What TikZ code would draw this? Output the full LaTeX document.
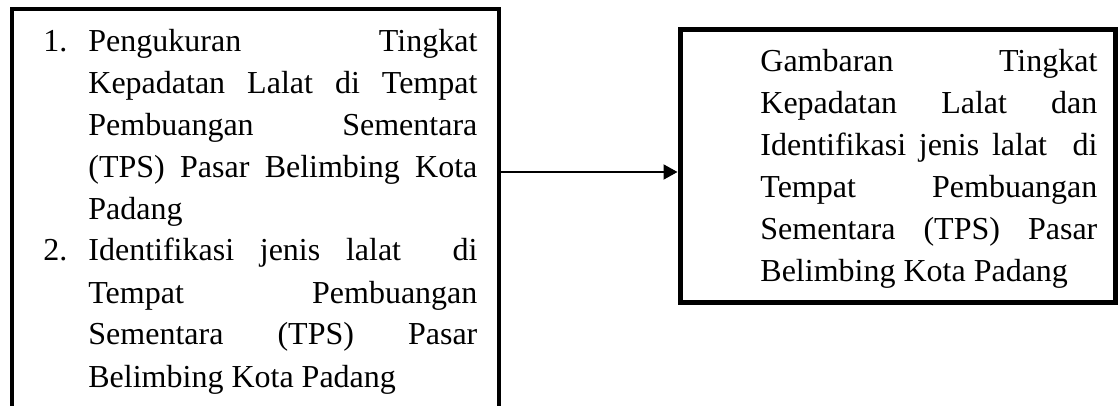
\documentclass[tikz,border=0pt]{standalone}
\usepackage{fontspec}
\setmainfont{Liberation Serif}
\usetikzlibrary{arrows.meta}
\tolerance=10000
\hyphenpenalty=10000

\tikzset{
  boxline/.style={draw,line width=#1,inner sep=0pt},
  bodytext/.style={anchor=base west,inner sep=0pt,text width=#1,align=justify,
    font=\fontsize{16}{21}\selectfont},
  itemnum/.style={anchor=base west,inner sep=0pt,font=\fontsize{16}{21}\selectfont},
}

\begin{document}
\begin{tikzpicture}[x=0.5pt,y=-0.5pt]
\useasboundingbox (0,0) rectangle (1118,406);
\clip (0,0) rectangle (1118,406);
% boxes
\node[boxline=2pt,minimum width=243.5pt,minimum height=245pt] (masukan) at (255,254.5) {};
\node[boxline=2.5pt,minimum width=217.5pt,minimum height=136pt] (hasil) at (897.5,166) {};
% left box text
\node[itemnum] (num1) at (43,52) {1.};
\node[bodytext=194.5pt] (item1) at (88,52) {Pengukuran Tingkat\linebreak Kepadatan Lalat di Tempat\linebreak Pembuangan Sementara\linebreak (TPS) Pasar Belimbing Kota\linebreak Padang};
\node[itemnum] (num2) at (43,261) {2.};
\node[bodytext=194.5pt] (item2) at (88,261) {Identifikasi jenis lalat\ \ di\linebreak Tempat Pembuangan\linebreak Sementara (TPS) Pasar\linebreak Belimbing Kota Padang};
% right box text
\node[bodytext=168.5pt] (gambaran) at (760,72) {Gambaran Tingkat\linebreak Kepadatan Lalat dan\linebreak Identifikasi jenis lalat\ \ di\linebreak Tempat Pembuangan\linebreak Sementara (TPS) Pasar\linebreak Belimbing Kota Padang};
% arrow
\coordinate (pangkal) at (masukan.east |- 0,172);
\draw[line width=1pt,-{Triangle[length=7pt,width=7.5pt]}] (pangkal) -- (pangkal -| hasil.west);
\end{tikzpicture}
\end{document}
